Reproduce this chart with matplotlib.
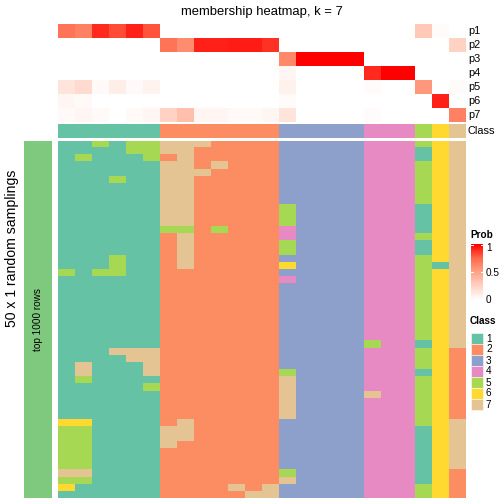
import numpy as np
import matplotlib
matplotlib.use('Agg')
import matplotlib.pyplot as plt
from matplotlib.colors import ListedColormap, BoundaryNorm, LinearSegmentedColormap
from matplotlib.patches import Rectangle

plt.rcParams['font.family'] = ['Liberation Sans', 'DejaVu Sans']

W = H = 504

# data
class_labels = ['1', '2', '3', '4', '5', '6', '7']
class_colors = ['#66C2A5', '#FC8D62', '#8DA0CB', '#E78AC3', '#A6D854', '#FFD92F', '#E5C494']
prob_names = ['p1', 'p2', 'p3', 'p4', 'p5', 'p6', 'p7']

col_class = [1, 1, 1, 1, 1, 1, 2, 2, 2, 2, 2, 2, 2, 3, 3, 3, 3, 3, 4, 4, 4, 5, 6, 7]

prob = [
    [0.70, 0.65, 0.90, 0.82, 0.92, 0.80, 0, 0, 0, 0, 0, 0, 0, 0, 0, 0, 0, 0, 0, 0, 0, 0.30, 0.02, 0],
    [0, 0, 0, 0, 0, 0, 0.70, 0.60, 0.92, 0.92, 0.93, 0.93, 0.88, 0, 0, 0, 0, 0, 0, 0, 0, 0, 0, 0.25],
    [0, 0, 0, 0, 0, 0, 0, 0, 0, 0, 0, 0, 0, 0.62, 1, 1, 1, 1, 0, 0, 0, 0, 0, 0],
    [0, 0, 0, 0, 0, 0, 0, 0, 0, 0, 0, 0, 0, 0.05, 0, 0, 0, 0, 0.90, 1, 1, 0, 0, 0],
    [0.15, 0.20, 0.03, 0.10, 0.03, 0.07, 0, 0, 0, 0, 0, 0, 0, 0.08, 0, 0, 0, 0, 0.02, 0, 0, 0.55, 0, 0.02],
    [0.05, 0.03, 0, 0, 0, 0, 0, 0, 0, 0, 0, 0, 0, 0.02, 0, 0, 0, 0, 0, 0, 0, 0, 0.92, 0],
    [0.03, 0.05, 0.03, 0, 0.03, 0.05, 0.25, 0.35, 0.05, 0.05, 0.03, 0.03, 0.05, 0.15, 0, 0, 0, 0, 0.02, 0, 0, 0, 0, 0.65],
]

# class of each column in each of the 50 samplings (one string per row)
membership = [
    "115155777222233333444567",
    "111155772222233333444167",
    "151115272222233333444167",
    "111111772722233333444567",
    "111111777222233333444567",
    "111511772222233333444567",
    "111111772222233333444567",
    "111111772222233333444567",
    "111111772222233333444567",
    "111111772222253333444167",
    "111111772222253333444167",
    "111111772222253333444167",
    "111111552522243333444167",
    "111111272222243333444567",
    "111111272222253333444167",
    "111111272222253333444167",
    "111511272222233333444567",
    "111511272222263333444517",
    "515511222222233333444567",
    "111111222222243333444567",
    "111111222222233333444567",
    "111111222222233333444567",
    "111111222222233333444567",
    "111111222222233333444567",
    "111111222222233333444567",
    "111111222222233333444567",
    "111111222222233333444567",
    "111111222222233333444567",
    "111111222222233333544167",
    "111777222222233333444562",
    "111177222222233333444562",
    "171117222222233333444562",
    "171117222222253333444162",
    "151111222222273333444562",
    "111115222222273333444562",
    "111111222222273333744562",
    "111111222222273333444562",
    "111111222222273333444562",
    "111111222222273333444562",
    "661111272222233333444567",
    "551111772222233333444167",
    "551111772222233333444167",
    "551111722222233333444167",
    "551111222222233333444167",
    "551111222222233333444167",
    "551111222222233333444167",
    "771111222222253333444162",
    "551111222222273333444162",
    "611111222272733333444562",
    "111111222227733333444562",
]


def px_axes(fig, x0, y0, x1, y1):
    ax = fig.add_axes([x0 / W, 1 - y1 / H, (x1 - x0) / W, (y1 - y0) / H])
    ax.set_axis_off()
    return ax


fig = plt.figure(figsize=(W / 72, H / 72), dpi=72)

class_cmap = ListedColormap(class_colors)
class_norm = BoundaryNorm(np.arange(0.5, 8.5, 1), class_cmap.N)
prob_cmap = LinearSegmentedColormap.from_list(
    'prob', [(0, '#FFFFFF'), (0.25, '#FFD3C4'), (0.5, '#FFA387'), (0.75, '#FF6A4B'), (1, '#FF0000')])

x0, x1 = 58, 466

# probability rows
ax_p = px_axes(fig, x0, 24, x1, 122)
ax_p.imshow(np.array(prob), cmap=prob_cmap, vmin=0, vmax=1, aspect='auto', interpolation='nearest')
for i, name in enumerate(prob_names):
    fig.text(468 / W, 1 - (24 + 14 * i + 7) / H, name, fontsize=11, va='center', ha='left')

# class annotation
ax_c = px_axes(fig, x0, 124, x1, 138)
ax_c.imshow(np.array([col_class]), cmap=class_cmap, norm=class_norm, aspect='auto', interpolation='nearest')
fig.text(468 / W, 1 - 131 / H, 'Class', fontsize=11, va='center', ha='left')

# main heatmap
mat = np.array([[int(c) for c in row] for row in membership])
ax_m = px_axes(fig, x0, 140.7, x1, 497.7)
ax_m.imshow(mat, cmap=class_cmap, norm=class_norm, aspect='auto', interpolation='nearest')

# left bar
ax_l = px_axes(fig, 24, 140.7, 52, 497.7)
ax_l.add_patch(Rectangle((0, 0), 1, 1, color='#7FC97F'))
ax_l.set_xlim(0, 1)
ax_l.set_ylim(0, 1)
ax_l.text(0.5, 0.5, 'top 1000 rows', rotation=90, ha='center', va='center', fontsize=10)

fig.text(12 / W, 1 - 248 / H, '50 x 1 random samplings', rotation=90, ha='center', va='center', fontsize=14)
fig.text(262 / W, 1 - 12 / H, 'membership heatmap, k = 7', ha='center', va='center', fontsize=13)

# Prob legend
fig.text(470 / W, 1 - 235 / H, 'Prob', fontsize=10, fontweight='bold', ha='left', va='center')
ax_cb = px_axes(fig, 471, 244, 483, 300)
grad = np.linspace(1, 0, 100).reshape(-1, 1)
ax_cb.imshow(grad, cmap=prob_cmap, vmin=0, vmax=1, aspect='auto', extent=[0, 1, 0, 1])
ax_cb.set_xlim(0, 1)
ax_cb.set_ylim(0, 1)
for v in [0.5, 1.0]:
    yv = min(v, 0.985)
    ax_cb.plot([0, 0.2], [yv, yv], color='white', lw=1)
    ax_cb.plot([0.8, 1], [yv, yv], color='white', lw=1)
for ypix, lab in [(248, '1'), (273, '0.5'), (300, '0')]:
    fig.text(486 / W, 1 - ypix / H, lab, fontsize=10, ha='left', va='center')

# Class legend
fig.text(470 / W, 1 - 321 / H, 'Class', fontsize=10, fontweight='bold', ha='left', va='center')
for i, (lab, colr) in enumerate(zip(class_labels, class_colors)):
    top = 333 + 11 * i
    fig.add_artist(Rectangle((471 / W, 1 - (top + 11) / H), 12 / W, 11 / H,
                             transform=fig.transFigure, facecolor=colr, edgecolor='white', lw=0.5))
    fig.text(486 / W, 1 - (top + 5.5) / H, lab, fontsize=10, ha='left', va='center')

fig.savefig('out.png', dpi=72)
